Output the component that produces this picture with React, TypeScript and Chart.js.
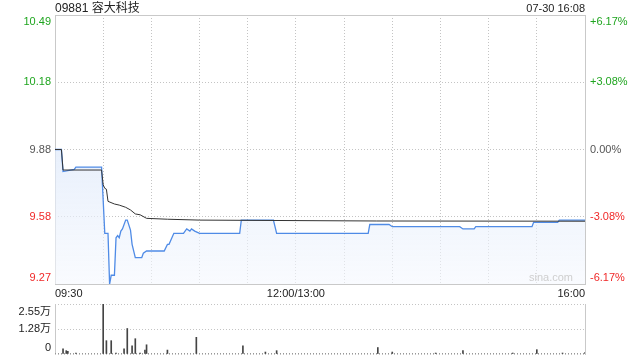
import React, { useEffect, useRef } from 'react';
import { Chart, registerables } from 'chart.js';

Chart.register(...registerables);

// ---- text ----
const titleText = '09881 容大科技';
const stampText = '07-30 16:08';
const watermark = 'sina.com';

// ---- price axis ----
const priceMin = 9.2704;
const priceMax = 10.4896;
const priceGrid = [9.2704, 9.5757, 9.88, 10.1843, 10.4896];
const priceLabels = ['9.27', '9.58', '9.88', '10.18', '10.49'];
const pctLabels = ['-6.17%', '-3.08%', '0.00%', '+3.08%', '+6.17%'];
const labelColors = ['#f02828', '#f02828', '#555555', '#1fa51f', '#1fa51f'];

// ---- time axis (minutes since 09:30, lunch removed) ----
const totalMinutes = 330;
const timeLabels = ['09:30', '12:00/13:00', '16:00'];
const timeIdx = [0, 150, 330];

// ---- price series ----
const priceMinute = [0, 4, 5, 12, 13, 29, 31, 33, 34, 35, 37, 38, 39, 40, 41, 42, 44, 45, 47, 48, 50, 54, 55, 57, 68, 70, 71, 74, 80, 82, 84, 85, 87, 90, 115, 116, 136, 138, 195, 196, 208, 210, 252, 254, 261, 262, 297, 298, 313, 314, 330];
const priceValue = [9.88, 9.88, 9.78, 9.79, 9.8, 9.8, 9.5, 9.5, 9.27, 9.31, 9.31, 9.48, 9.49, 9.48, 9.51, 9.52, 9.56, 9.56, 9.515, 9.45, 9.39, 9.39, 9.41, 9.42, 9.42, 9.45, 9.45, 9.5, 9.5, 9.52, 9.51, 9.52, 9.51, 9.5, 9.5, 9.56, 9.56, 9.5, 9.5, 9.54, 9.54, 9.53, 9.53, 9.52, 9.52, 9.53, 9.53, 9.55, 9.55, 9.56, 9.56];

// ---- average price series ----
const avgMinute = [0, 4, 5, 29, 30, 31, 32, 33, 37, 40, 44, 47, 50, 53, 57, 70, 90, 200, 330];
const avgValue = [9.88, 9.88, 9.787, 9.787, 9.72, 9.704, 9.7, 9.645, 9.633, 9.628, 9.618, 9.606, 9.588, 9.584, 9.568, 9.564, 9.56, 9.556, 9.555];

// ---- volume (万) ----
const volMinute = [5, 7, 8, 13, 30, 32, 35, 38, 43, 45, 48, 50, 53, 56, 57, 70, 88, 117, 131, 138, 201, 210, 237, 254, 285, 300, 316, 330];
const volValue = [0.26, 0.17, 0.14, 0.05, 2.55, 0.68, 0.68, 0.05, 0.26, 1.3, 0.42, 0.78, 0.05, 0.2, 0.47, 0.2, 0.85, 0.42, 0.1, 0.17, 0.33, 0.1, 0.05, 0.17, 0.05, 0.22, 0.05, 0.07];
const volMax = 2.55;
const volGrid = [0, 1.275, 2.55];
const volLabels = ['0', '1.28万', '2.55万'];

const FONT = '"Liberation Sans", Arial, "Noto Sans CJK SC", sans-serif';
const FRAME = '#c9c9c9';
const GRID = '#c4c4c4';

const pricePlugin = {
  id: 'priceDecor',
  beforeDatasetsDraw(chart: any) {
    const { ctx, chartArea } = chart;
    const { left, right, top, bottom } = chartArea;
    ctx.save();
    ctx.setLineDash([]);
    ctx.strokeStyle = FRAME;
    ctx.lineWidth = 1;
    ctx.strokeRect(Math.round(left) + 0.5, Math.round(top) + 0.5, Math.round(right - left), Math.round(bottom - top));
    ctx.restore();
  },
  afterDraw(chart: any) {
    const { ctx, chartArea } = chart;
    const { left, right, top, bottom } = chartArea;
    const ys = chart.scales.y;
    const xs = chart.scales.x;
    ctx.save();
    ctx.font = '11px ' + FONT;
    priceGrid.forEach((v, i) => {
      let py = ys.getPixelForValue(v);
      let base: CanvasTextBaseline = 'middle';
      if (i === priceGrid.length - 1) { base = 'top'; py = top + 1; }
      if (i === 0) { base = 'bottom'; py = bottom - 1; }
      ctx.fillStyle = labelColors[i];
      ctx.textBaseline = base;
      ctx.textAlign = 'right';
      ctx.fillText(priceLabels[i], left - 4, py);
      ctx.textAlign = 'left';
      ctx.fillText(pctLabels[i], right + 5, py);
    });
    // time labels
    ctx.fillStyle = '#222';
    ctx.textBaseline = 'middle';
    timeLabels.forEach((t, i) => {
      const px = xs.getPixelForValue(timeIdx[i]);
      ctx.textAlign = i === 0 ? 'left' : i === timeLabels.length - 1 ? 'right' : 'center';
      ctx.fillText(t, px, bottom + 10);
    });
    // watermark
    ctx.fillStyle = '#cfcfcf';
    ctx.textAlign = 'right';
    ctx.textBaseline = 'middle';
    ctx.font = '11px ' + FONT;
    ctx.fillText(watermark, right - 12, bottom - 6);
    // title and stamp
    ctx.fillStyle = '#222';
    ctx.textBaseline = 'alphabetic';
    ctx.textAlign = 'left';
    ctx.font = '12px ' + FONT;
    ctx.fillText(titleText, left, 12);
    ctx.textAlign = 'right';
    ctx.font = '11px ' + FONT;
    ctx.fillText(stampText, right, 12);
    ctx.restore();
  },
};

const volPlugin = {
  id: 'volDecor',
  beforeDatasetsDraw(chart: any) {
    const { ctx, chartArea } = chart;
    const { left, right, top, bottom } = chartArea;
    ctx.save();
    ctx.setLineDash([]);
    ctx.strokeStyle = FRAME;
    ctx.lineWidth = 1;
    ctx.beginPath();
    ctx.moveTo(Math.round(left) + 0.5, Math.round(top));
    ctx.lineTo(Math.round(left) + 0.5, Math.round(bottom) + 1);
    ctx.moveTo(Math.round(right) + 0.5, Math.round(top));
    ctx.lineTo(Math.round(right) + 0.5, Math.round(bottom) + 1);
    ctx.stroke();
    // dotted baseline
    ctx.setLineDash([1, 2]);
    ctx.strokeStyle = '#999999';
    ctx.beginPath();
    ctx.moveTo(Math.round(left), Math.round(bottom) - 0.5);
    ctx.lineTo(Math.round(right), Math.round(bottom) - 0.5);
    ctx.stroke();
    ctx.restore();
  },
  afterDraw(chart: any) {
    const { ctx, chartArea } = chart;
    const { left, top, bottom } = chartArea;
    const ys = chart.scales.y;
    ctx.save();
    ctx.font = '11px ' + FONT;
    ctx.fillStyle = '#222';
    ctx.textAlign = 'right';
    volGrid.forEach((v, i) => {
      let py = ys.getPixelForValue(v);
      let base: CanvasTextBaseline = 'middle';
      if (i === volGrid.length - 1) { base = 'top'; py = top + 2; }
      if (i === 0) { base = 'bottom'; py = bottom - 1; }
      ctx.textBaseline = base;
      ctx.fillText(volLabels[i], left - 4, py);
    });
    ctx.restore();
  },
};

export default function App() {
  const priceRef = useRef<HTMLCanvasElement | null>(null);
  const volRef = useRef<HTMLCanvasElement | null>(null);

  useEffect(() => {
    const priceChart = new Chart(priceRef.current as HTMLCanvasElement, {
      type: 'line',
      data: {
        datasets: [
          {
            data: avgMinute.map((m, i) => ({ x: m, y: avgValue[i] })),
            borderColor: '#333333',
            borderWidth: 1,
            pointRadius: 0,
            fill: false,
            tension: 0,
          },
          {
            data: priceMinute.map((m, i) => ({ x: m, y: priceValue[i] })),
            borderColor: '#4f8be6',
            borderWidth: 1.3,
            pointRadius: 0,
            tension: 0,
            fill: 'start',
            backgroundColor: (c: any) => {
              const { chart } = c;
              const area = chart.chartArea;
              if (!area) return 'rgba(220,232,250,0.6)';
              const g = chart.ctx.createLinearGradient(0, area.top, 0, area.bottom);
              g.addColorStop(0, 'rgba(200,218,248,0.75)');
              g.addColorStop(0.5, 'rgba(222,233,250,0.7)');
              g.addColorStop(1, 'rgba(245,248,254,0.6)');
              return g;
            },
          },
        ],
      },
      options: {
        responsive: false,
        animation: false,
        layout: { padding: { left: 55, right: 55, top: 15, bottom: 16 } },
        plugins: { legend: { display: false }, tooltip: { enabled: false } },
        scales: {
          x: {
            type: 'linear',
            min: 0,
            max: totalMinutes,
            ticks: { display: false, stepSize: 30 },
            grid: { color: GRID, lineWidth: 1, drawTicks: false },
            border: { display: false, dash: [1, 2] },
            afterFit: (s: any) => { s.height = 0; },
          },
          y: {
            min: priceMin,
            max: priceMax,
            ticks: { display: false },
            afterBuildTicks: (s: any) => { s.ticks = priceGrid.map((v) => ({ value: v })); },
            grid: { color: GRID, lineWidth: 1, drawTicks: false },
            border: { display: false, dash: [1, 2] },
            afterFit: (s: any) => { s.width = 0; },
          },
        },
      },
      plugins: [pricePlugin],
    } as any);

    const volChart = new Chart(volRef.current as HTMLCanvasElement, {
      type: 'bar',
      data: {
        datasets: [
          {
            data: volMinute.map((m, i) => ({ x: m, y: volValue[i] })),
            backgroundColor: '#444444',
            borderWidth: 0,
            barThickness: 1,
          },
        ],
      },
      options: {
        responsive: false,
        animation: false,
        layout: { padding: { left: 55, right: 55, top: 4, bottom: 6 } },
        plugins: { legend: { display: false }, tooltip: { enabled: false } },
        scales: {
          x: {
            type: 'linear',
            min: 0,
            max: totalMinutes,
            offset: false,
            ticks: { display: false },
            grid: { display: false, drawTicks: false },
            border: { display: false },
            afterFit: (s: any) => { s.height = 0; },
          },
          y: {
            min: 0,
            max: volMax,
            ticks: { display: false },
            afterBuildTicks: (s: any) => { s.ticks = volGrid.map((v) => ({ value: v })); },
            grid: { color: GRID, lineWidth: 1, drawTicks: false },
            border: { display: false, dash: [1, 2] },
            afterFit: (s: any) => { s.width = 0; },
          },
        },
      },
      plugins: [volPlugin],
    } as any);

    return () => {
      priceChart.destroy();
      volChart.destroy();
    };
  }, []);

  return (
    <div style={{ position: 'absolute', left: 0, top: 0, width: 640, height: 360, background: '#fff' }}>
      <canvas ref={priceRef} width={640} height={300} style={{ position: 'absolute', left: 0, top: 0, width: 640, height: 300 }} />
      <canvas ref={volRef} width={640} height={60} style={{ position: 'absolute', left: 0, top: 300, width: 640, height: 60 }} />
    </div>
  );
}
